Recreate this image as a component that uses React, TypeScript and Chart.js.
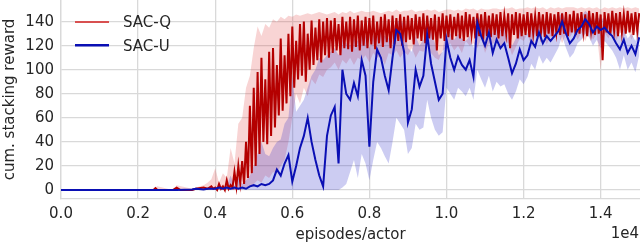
import { useEffect, useRef } from "react";
import { Chart, registerables } from "chart.js";

Chart.register(...registerables);

// episodes / actor, in units of 1e4 (grid for the bands and for SAC-U)
const EPISODES = [
  0, 0.05, 0.1, 0.15, 0.2, 0.24, 0.25, 0.29, 0.3, 0.34, 0.35, 0.37, 0.38, 0.39,
  0.4, 0.41, 0.42, 0.43, 0.44, 0.45, 0.46, 0.47, 0.48, 0.49,
  0.5, 0.51, 0.52, 0.53, 0.54, 0.55, 0.56, 0.57, 0.58, 0.59,
  0.6, 0.61, 0.62, 0.63, 0.64, 0.65, 0.66, 0.67, 0.68, 0.69,
  0.7, 0.71, 0.72, 0.73, 0.74, 0.75, 0.76, 0.77, 0.78, 0.79,
  0.8, 0.81, 0.82, 0.83, 0.84, 0.85, 0.86, 0.87, 0.88, 0.89,
  0.9, 0.91, 0.92, 0.93, 0.94, 0.95, 0.96, 0.97, 0.98, 0.99,
  1.0, 1.01, 1.02, 1.03, 1.04, 1.05, 1.06, 1.07, 1.08, 1.09,
  1.1, 1.11, 1.12, 1.13, 1.14, 1.15, 1.16, 1.17, 1.18, 1.19,
  1.2, 1.21, 1.22, 1.23, 1.24, 1.25, 1.26, 1.27, 1.28, 1.29,
  1.3, 1.31, 1.32, 1.33, 1.34, 1.35, 1.36, 1.37, 1.38, 1.39,
  1.4, 1.41, 1.42, 1.43, 1.44, 1.45, 1.46, 1.47, 1.48, 1.49,
  1.5,
];

// finer episode grid for the (very noisy) SAC-Q mean curve
const EPISODES_Q = [
  0, 0.1, 0.2, 0.24, 0.245, 0.25, 0.29, 0.3, 0.31, 0.34, 0.35, 0.37, 0.38, 0.39, 0.395,
  0.4, 0.405, 0.41, 0.415, 0.42, 0.425, 0.43, 0.435, 0.44, 0.445, 0.45, 0.455, 0.46, 0.465, 0.47, 0.475, 0.48, 0.485, 0.49, 0.495,
  0.5, 0.505, 0.51, 0.515, 0.52, 0.525, 0.53, 0.535, 0.54, 0.545, 0.55, 0.555, 0.56, 0.565, 0.57, 0.575, 0.58, 0.585, 0.59, 0.595,
  0.6, 0.605, 0.61, 0.615, 0.62, 0.625, 0.63, 0.635, 0.64, 0.645, 0.65, 0.655, 0.66, 0.665, 0.67, 0.675, 0.68, 0.685, 0.69, 0.695,
  0.7, 0.705, 0.71, 0.715, 0.72, 0.725, 0.73, 0.735, 0.74, 0.745, 0.75, 0.755, 0.76, 0.765, 0.77, 0.775, 0.78, 0.785, 0.79, 0.795,
  0.8, 0.805, 0.81, 0.815, 0.82, 0.825, 0.83, 0.835, 0.84, 0.845, 0.85, 0.855, 0.86, 0.865, 0.87, 0.875, 0.88, 0.885, 0.89, 0.895,
  0.9, 0.905, 0.91, 0.915, 0.92, 0.925, 0.93, 0.935, 0.94, 0.945, 0.95, 0.955, 0.96, 0.965, 0.97, 0.975, 0.98, 0.985, 0.99, 0.995,
  1.0, 1.005, 1.01, 1.015, 1.02, 1.025, 1.03, 1.035, 1.04, 1.045, 1.05, 1.055, 1.06, 1.065, 1.07, 1.075, 1.08, 1.085, 1.09, 1.095,
  1.1, 1.105, 1.11, 1.115, 1.12, 1.125, 1.13, 1.135, 1.14, 1.145, 1.15, 1.155, 1.16, 1.165, 1.17, 1.175, 1.18, 1.185, 1.19, 1.195,
  1.2, 1.205, 1.21, 1.215, 1.22, 1.225, 1.23, 1.235, 1.24, 1.245, 1.25, 1.255, 1.26, 1.265, 1.27, 1.275, 1.28, 1.285, 1.29, 1.295,
  1.3, 1.305, 1.31, 1.315, 1.32, 1.325, 1.33, 1.335, 1.34, 1.345, 1.35, 1.355, 1.36, 1.365, 1.37, 1.375, 1.38, 1.385, 1.39, 1.395,
  1.4, 1.405, 1.41, 1.415, 1.42, 1.425, 1.43, 1.435, 1.44, 1.445, 1.45, 1.455, 1.46, 1.465, 1.47, 1.475, 1.48, 1.485, 1.49, 1.495,
  1.5,
];

const SAC_Q_MEAN = [
  0, 0, 0, 0, 1.5, 0, 0, 2, 0, 0, 1, 2, 1, 3, 1,
  2, 0, 5, 1, 3, 0, 8, 1, 4, 2, 15, 3, 20, 6, 24, 5, 40, 10, 70, 14,
  85, 20, 98, 30, 110, 40, 92, 38, 115, 45, 118, 52, 104, 62, 126, 66, 112, 72, 130, 78,
  136, 85, 124, 92, 138, 95, 140, 90, 130, 100, 141, 104, 135, 108, 142, 106, 140, 112, 143, 110,
  141, 114, 143, 116, 138, 112, 144, 118, 140, 117, 144, 115, 142, 119, 145, 116, 141, 120, 144, 118,
  143, 121, 145, 117, 140, 122, 144, 119, 146, 123, 142, 118, 145, 121, 143, 124, 146, 120, 144, 123,
  145, 125, 143, 121, 146, 126, 144, 124, 147, 122, 145, 126, 143, 125, 146, 116, 144, 126, 147, 124,
  145, 127, 146, 125, 144, 128, 147, 126, 145, 124, 148, 127, 146, 129, 144, 126, 147, 128, 146, 125,
  148, 128, 145, 127, 147, 129, 146, 126, 148, 128, 145, 130, 147, 118, 146, 129, 148, 126, 147, 128,
  146, 129, 148, 127, 147, 130, 145, 128, 148, 131, 146, 127, 148, 130, 147, 128, 146, 131, 148, 129,
  147, 130, 148, 128, 146, 131, 149, 129, 147, 130, 148, 131, 146, 128, 149, 132, 147, 129, 148, 130,
  146, 108, 148, 131, 147, 129, 149, 132, 147, 128, 148, 131, 146, 130, 149, 131, 147, 129, 148, 132,
  147,
];

const SAC_Q_LOW = [
  0, 0, 0, 0, 0, 0, 0, 0, 0, 0, 0, 0, 0, 0,
  0, 0, 0, 0, 0, 0, 0, 1, 2, 3,
  5, 8, 6, 12, 10, 15, 14, 20, 25, 40,
  60, 80, 72, 85, 78, 92, 88, 96, 94, 100,
  102, 106, 100, 108, 105, 110, 104, 110, 108, 112,
  106, 114, 110, 112, 104, 114, 112, 116, 110, 115,
  112, 118, 110, 116, 115, 120, 114, 110, 108, 116,
  118, 122, 116, 120, 114, 124, 120, 122, 118, 126,
  114, 122, 121, 126, 118, 124, 122, 112, 119, 126,
  124, 130, 120, 128, 125, 131, 121, 128, 126, 130,
  122, 130, 127, 132, 125, 131, 124, 132, 125, 130,
  100, 131, 126, 133, 124, 131, 127, 133, 125, 132,
  128,
];

const SAC_Q_HIGH = [
  0, 0, 0, 0, 0, 1, 3, 0, 4, 1, 2, 4, 6, 9,
  18, 6, 14, 10, 35, 22, 55, 60, 85, 95,
  118, 136, 128, 138, 135, 142, 140, 144, 142, 145,
  144, 146, 145, 146, 147, 146, 147, 148, 147, 146,
  147, 148, 146, 148, 147, 149, 147, 148, 149, 148,
  148, 149, 148, 147, 148, 149, 148, 150, 148, 149,
  149, 150, 148, 149, 149, 150, 149, 150, 148, 149,
  150, 150, 149, 150, 149, 151, 150, 151, 149, 151,
  150, 150, 151, 151, 150, 151, 151, 152, 150, 151,
  151, 152, 151, 152, 151, 152, 150, 152, 151, 152,
  151, 152, 152, 152, 151, 152, 151, 152, 151, 152,
  150, 152, 151, 152, 151, 152, 151, 152, 151, 152,
  151,
];

const SAC_U_MEAN = [
  0, 0, 0, 0, 0, 0, 0, 0, 0, 0.5, 1, 0.5, 1, 1,
  1, 2, 1, 2, 1, 2, 1, 2, 1, 3,
  4, 3, 5, 4, 5, 8, 17, 12, 22, 29,
  7, 20, 35, 45, 60, 40, 25, 12, 3, 45,
  62, 69, 22, 100, 80, 75, 89, 78, 108, 95,
  36, 90, 117, 110, 95, 83, 110, 133, 130, 115,
  56, 67, 100, 86, 95, 129, 105, 90, 75, 80,
  125, 110, 100, 111, 104, 100, 108, 94, 139, 128,
  120, 131, 114, 125, 118, 122, 110, 97, 105, 117,
  108, 112, 124, 119, 131, 122, 128, 124, 128, 132,
  140, 130, 122, 126, 133, 136, 142, 138, 131, 136,
  133, 135, 131, 128, 122, 117, 125, 114, 120, 113,
  127,
];

const SAC_U_LOW = [
  0, 0, 0, 0, 0, 0, 0, 0, 0, 0, 0, 0, 0, 0,
  0, 0, 0, 0, 0, 0, 0, 0, 0, 0,
  0, 0, 0, 0, 0, 0, 0, 0, 0, 0,
  0, 0, 0, 0, 0, 0, 0, 0, 0, 0,
  0, 0, 0, 2, 5, 15, 25, 10, 30, 22,
  8, 25, 40, 35, 28, 22, 40, 60, 55, 50,
  30, 35, 55, 50, 52, 75, 60, 50, 45, 48,
  85, 80, 75, 85, 82, 78, 85, 75, 100, 92,
  85, 95, 82, 90, 86, 88, 80, 75, 82, 92,
  88, 94, 105, 100, 112, 105, 110, 106, 112, 118,
  128, 118, 110, 114, 122, 125, 130, 127, 120, 125,
  118, 124, 120, 116, 110, 100, 112, 100, 106, 98,
  112,
];

const SAC_U_HIGH = [
  0, 0, 0, 0, 0, 0, 0, 0, 0, 1, 2, 1, 2, 2,
  2, 3, 2, 4, 12, 3, 10, 5, 8, 12,
  20, 30, 40, 30, 28, 35, 40, 42, 55, 60,
  95, 65, 70, 75, 85, 95, 100, 110, 108, 112,
  115, 118, 112, 125, 122, 120, 126, 124, 130, 128,
  118, 128, 132, 131, 128, 126, 134, 140, 141, 138,
  118, 115, 128, 120, 125, 140, 132, 122, 112, 115,
  138, 130, 125, 130, 126, 124, 128, 118, 145, 140,
  135, 142, 130, 138, 133, 136, 128, 120, 126, 134,
  128, 130, 138, 134, 142, 136, 140, 137, 140, 143,
  148, 141, 134, 137, 142, 144, 149, 146, 140, 144,
  142, 143, 140, 138, 132, 128, 134, 126, 130, 124,
  136,
];

const X_TICKS = [0, 0.2, 0.4, 0.6, 0.8, 1.0, 1.2, 1.4];
const Y_TICKS = [0, 20, 40, 60, 80, 100, 120, 140];
const SERIES_NAMES = ["SAC-Q", "SAC-U"];
const X_TITLE = "episodes/actor";
const Y_TITLE = "cum. stacking reward";
const X_SCALE_NOTE = "1e4";

const FONT = "'DejaVu Sans', 'Liberation Sans', sans-serif";
const TEXT = "#262626";
const GRID = "#d9d9d9";
const RED_LINE = "#b40000";
const RED_LEGEND = "#d85050";
const RED_BAND = "rgba(225, 60, 60, 0.22)";
const BLUE_LINE = "#0a0fb4";
const BLUE_BAND = "rgba(40, 40, 200, 0.24)";

const pts = (xs: number[], ys: number[]) => xs.map((x, i) => ({ x, y: ys[i] }));

export default function App() {
  const ref = useRef<HTMLCanvasElement>(null);

  useEffect(() => {
    document.body.style.margin = "0";
    const canvas = ref.current;
    if (!canvas) return;

    const overlay = {
      id: "overlayLegend",
      afterDraw(chart: any) {
        const { ctx, chartArea } = chart;
        ctx.save();
        const colors = [RED_LEGEND, BLUE_LINE];
        const widths = [2, 2.5];
        SERIES_NAMES.forEach((name, i) => {
          const y = chartArea.top + 22 + i * 23.3;
          ctx.strokeStyle = colors[i];
          ctx.lineWidth = widths[i];
          ctx.beginPath();
          ctx.moveTo(chartArea.left + 14, y);
          ctx.lineTo(chartArea.left + 48, y);
          ctx.stroke();
          ctx.fillStyle = TEXT;
          ctx.font = `15px ${FONT}`;
          ctx.textAlign = "left";
          ctx.textBaseline = "alphabetic";
          ctx.fillText(name, chartArea.left + 62, y + 5.4);
        });
        ctx.font = `15px ${FONT}`;
        ctx.fillStyle = TEXT;
        ctx.textAlign = "right";
        ctx.textBaseline = "alphabetic";
        ctx.fillText(X_SCALE_NOTE, chart.width - 1, 237.5);
        ctx.restore();
      },
    };

    const line = (extra: any) => ({
      pointRadius: 0,
      pointHoverRadius: 0,
      tension: 0,
      ...extra,
    });

    const chart = new Chart(canvas, {
      type: "line",
      data: {
        datasets: [
          line({ label: "SAC-Q low", data: pts(EPISODES, SAC_Q_LOW), borderWidth: 0, borderColor: "transparent", fill: false, order: 4 }),
          line({ label: "SAC-Q high", data: pts(EPISODES, SAC_Q_HIGH), borderWidth: 0, borderColor: "transparent", backgroundColor: RED_BAND, fill: "-1", order: 4 }),
          line({ label: "SAC-U low", data: pts(EPISODES, SAC_U_LOW), borderWidth: 0, borderColor: "transparent", fill: false, order: 3 }),
          line({ label: "SAC-U high", data: pts(EPISODES, SAC_U_HIGH), borderWidth: 0, borderColor: "transparent", backgroundColor: BLUE_BAND, fill: "-1", order: 3 }),
          line({ label: SERIES_NAMES[0], data: pts(EPISODES_Q, SAC_Q_MEAN), borderWidth: 2, borderColor: RED_LINE, fill: false, order: 2 }),
          line({ label: SERIES_NAMES[1], data: pts(EPISODES, SAC_U_MEAN), borderWidth: 2, borderColor: BLUE_LINE, fill: false, order: 1 }),
        ],
      },
      options: {
        responsive: false,
        animation: false,
        devicePixelRatio: 1,
        layout: { padding: 0 },
        plugins: {
          legend: { display: false },
          tooltip: { enabled: false },
        },
        scales: {
          x: {
            type: "linear",
            min: 0,
            max: 1.502,
            afterBuildTicks: (s: any) => {
              s.ticks = X_TICKS.map((v) => ({ value: v }));
            },
            ticks: {
              font: { family: FONT, size: 15 },
              color: TEXT,
              padding: 6,
              maxRotation: 0,
              autoSkip: false,
              callback: (v: any) => Number(v).toFixed(1),
            },
            grid: { color: GRID, lineWidth: 1.3, drawTicks: false },
            border: { display: true, color: GRID, width: 1.3 },
            title: {
              display: true,
              text: X_TITLE,
              font: { family: FONT, size: 15 },
              color: TEXT,
              padding: { top: 0, bottom: 0 },
            },
            afterFit: (s: any) => {
              s.height = 45;
              s.paddingLeft = 0;
              s.paddingRight = 0;
            },
          },
          y: {
            type: "linear",
            min: -7.5,
            max: 158,
            afterBuildTicks: (s: any) => {
              s.ticks = Y_TICKS.map((v) => ({ value: v }));
            },
            ticks: {
              font: { family: FONT, size: 15 },
              color: TEXT,
              padding: 7,
              autoSkip: false,
            },
            grid: { color: GRID, lineWidth: 1.3, drawTicks: false },
            border: { display: true, color: GRID, width: 1.3 },
            title: {
              display: true,
              text: Y_TITLE,
              font: { family: FONT, size: 15 },
              color: TEXT,
              padding: { top: 1, bottom: 0 },
            },
            afterFit: (s: any) => {
              s.width = 61;
              s.paddingTop = 0;
              s.paddingBottom = 0;
            },
          },
        },
      },
      plugins: [overlay],
    });

    return () => chart.destroy();
  }, []);

  return (
    <div style={{ position: "absolute", left: 0, top: 0, width: 640, height: 244 }}>
      <canvas ref={ref} width={640} height={244} style={{ display: "block" }} />
    </div>
  );
}
